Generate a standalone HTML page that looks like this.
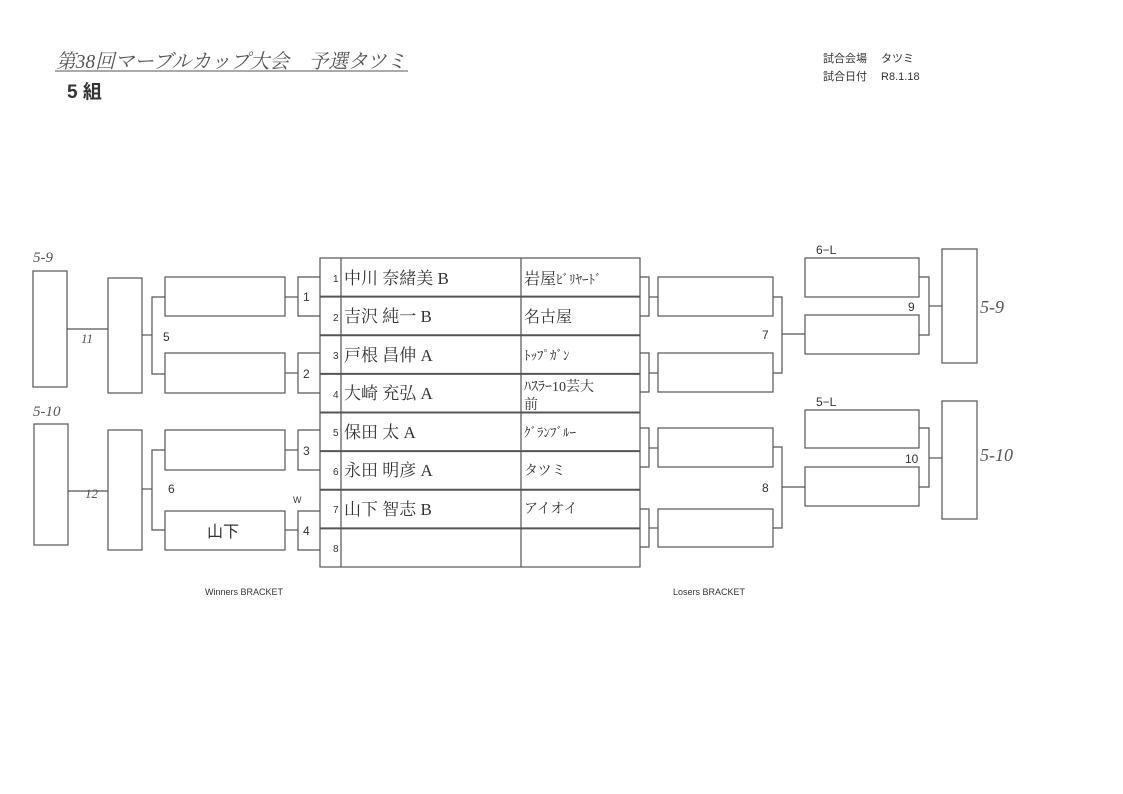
<!DOCTYPE html>
<html><head><meta charset="utf-8"><style>
html,body{margin:0;padding:0;background:#fff;}
svg{display:block}
.s{font-family:"Liberation Sans","Noto Sans CJK JP",sans-serif;fill:#333}
.m{font-family:"Liberation Serif","Noto Serif CJK SC",serif;fill:#333}
.h{font-family:"Liberation Serif","Noto Serif CJK SC",serif;fill:#555;font-style:italic}
</style></head><body>
<svg width="1123" height="794" viewBox="0 0 1123 794" xmlns="http://www.w3.org/2000/svg">
<rect width="1123" height="794" fill="#fff"/>
<!-- header -->
<text x="56" y="68" class="h" font-size="20" textLength="350" lengthAdjust="spacingAndGlyphs">第38回マーブルカップ大会　予選タツミ</text>
<line x1="55" y1="71" x2="408" y2="71" stroke="#555" stroke-width="1"/>
<text x="67" y="98" class="s" font-size="19" font-weight="bold">5 組</text>
<text x="823" y="62" class="s" font-size="11">試合会場　 タツミ</text>
<text x="823" y="80" class="s" font-size="11">試合日付　 R8.1.18</text>
<text x="205" y="595" class="s" font-size="9">Winners BRACKET</text>
<text x="673" y="595" class="s" font-size="9">Losers BRACKET</text>

<g fill="none" stroke="#555" stroke-width="1.2">
<!-- table -->
<rect x="320" y="258" width="320" height="309"/>
<line x1="341" y1="258" x2="341" y2="567"/>
<line x1="521" y1="258" x2="521" y2="567"/>
<line x1="320" y1="296.6" x2="640" y2="296.6" stroke-width="2"/>
<line x1="320" y1="335.2" x2="640" y2="335.2" stroke-width="2"/>
<line x1="320" y1="373.9" x2="640" y2="373.9" stroke-width="2"/>
<line x1="320" y1="412.5" x2="640" y2="412.5" stroke-width="2"/>
<line x1="320" y1="451.1" x2="640" y2="451.1" stroke-width="2"/>
<line x1="320" y1="489.7" x2="640" y2="489.7" stroke-width="2"/>
<line x1="320" y1="528.4" x2="640" y2="528.4" stroke-width="2"/>

<!-- left winners -->
<rect x="33" y="271" width="34" height="116"/>
<rect x="34" y="424" width="34" height="121"/>
<line x1="67" y1="329" x2="108" y2="329"/>
<line x1="68" y1="491" x2="108" y2="491"/>
<rect x="108" y="278" width="34" height="115"/>
<rect x="108" y="430" width="34" height="120"/>
<line x1="142" y1="335" x2="152" y2="335"/>
<line x1="142" y1="489" x2="152" y2="489"/>
<polyline points="165,297 152,297 152,374 165,374"/>
<polyline points="165,450 152,450 152,530 165,530"/>
<rect x="165" y="277" width="120" height="39"/>
<rect x="165" y="353" width="120" height="40"/>
<rect x="165" y="430" width="120" height="40"/>
<rect x="165" y="511" width="120" height="39"/>
<line x1="285" y1="297" x2="298" y2="297"/>
<line x1="285" y1="373" x2="298" y2="373"/>
<line x1="285" y1="450" x2="298" y2="450"/>
<line x1="285" y1="530" x2="298" y2="530"/>
<polyline points="320,277 298,277 298,316 320,316"/>
<polyline points="320,353 298,353 298,393 320,393"/>
<polyline points="320,430 298,430 298,470 320,470"/>
<polyline points="320,511 298,511 298,550 320,550"/>

<!-- right losers -->
<polyline points="640,277 649,277 649,316 640,316"/>
<polyline points="640,353 649,353 649,392 640,392"/>
<polyline points="640,428 649,428 649,467 640,467"/>
<polyline points="640,509 649,509 649,547 640,547"/>
<line x1="649" y1="297" x2="658" y2="297"/>
<line x1="649" y1="373" x2="658" y2="373"/>
<line x1="649" y1="448" x2="658" y2="448"/>
<line x1="649" y1="528" x2="658" y2="528"/>
<rect x="658" y="277" width="115" height="39"/>
<rect x="658" y="353" width="115" height="39"/>
<rect x="658" y="428" width="115" height="39"/>
<rect x="658" y="509" width="115" height="38"/>
<polyline points="773,297 782,297 782,373 773,373"/>
<polyline points="773,447 782,447 782,528 773,528"/>
<line x1="782" y1="334" x2="805" y2="334"/>
<line x1="782" y1="487" x2="805" y2="487"/>
<rect x="805" y="258" width="114" height="39"/>
<rect x="805" y="315" width="114" height="39"/>
<rect x="805" y="410" width="114" height="38"/>
<rect x="805" y="467" width="114" height="39"/>
<polyline points="919,277 929,277 929,335 919,335"/>
<polyline points="919,428 929,428 929,487 919,487"/>
<line x1="929" y1="306" x2="942" y2="306"/>
<line x1="929" y1="458" x2="942" y2="458"/>
<rect x="942" y="249" width="35" height="114"/>
<rect x="942" y="401" width="35" height="118"/>
</g>

<!-- bracket numbers -->
<g class="s" font-size="12">
<text x="303" y="301">1</text><text x="303" y="378">2</text>
<text x="303" y="455">3</text><text x="303" y="535">4</text>
<text x="293" y="503" font-size="9">W</text>
<text x="163" y="341">5</text><text x="168" y="493">6</text>
<text x="762" y="339">7</text><text x="762" y="492">8</text>
<text x="908" y="311">9</text><text x="905" y="463">10</text>
<text x="816" y="254">6−L</text><text x="816" y="406">5−L</text>
</g>
<!-- handwriting -->
<g class="h" font-size="15">
<text x="33" y="262">5-9</text><text x="33" y="416">5-10</text>
<text x="81" y="343" font-size="13">11</text><text x="85" y="498" font-size="13">12</text>
<text x="980" y="313" font-size="18">5-9</text><text x="980" y="461" font-size="18">5-10</text>
</g>

<!-- table numbers -->
<g class="s" font-size="10">
<text x="333" y="282">1</text><text x="333" y="321">2</text><text x="333" y="359">3</text>
<text x="333" y="398">4</text><text x="333" y="436">5</text><text x="333" y="475">6</text>
<text x="333" y="513">7</text><text x="333" y="552">8</text>
</g>
<g class="m" font-size="17">
<text x="344" y="284">中川 奈緒美 B</text>
<text x="344" y="322">吉沢 純一 B</text>
<text x="344" y="361">戸根 昌伸 A</text>
<text x="344" y="399">大崎 充弘 A</text>
<text x="344" y="438">保田 太 A</text>
<text x="344" y="476">永田 明彦 A</text>
<text x="344" y="515">山下 智志 B</text>
<text x="207" y="537" class="s" font-size="16">山下</text>
</g>
<g class="m" font-size="16">
<text x="524" y="284">岩屋<tspan font-size="13">ﾋﾞﾘﾔｰﾄﾞ</tspan></text>
<text x="524" y="322">名古屋</text>
<text x="524" y="360" font-size="13">ﾄｯﾌﾟｶﾞﾝ</text>
<text x="524" y="391" font-size="14">ﾊｽﾗｰ10芸大</text>
<text x="524" y="409" font-size="14">前</text>
<text x="524" y="437" font-size="13">ｸﾞﾗﾝﾌﾞﾙｰ</text>
<text x="524" y="475" font-size="14">タツミ</text>
<text x="524" y="513" font-size="14">アイオイ</text>
</g>
</svg>
</body></html>
